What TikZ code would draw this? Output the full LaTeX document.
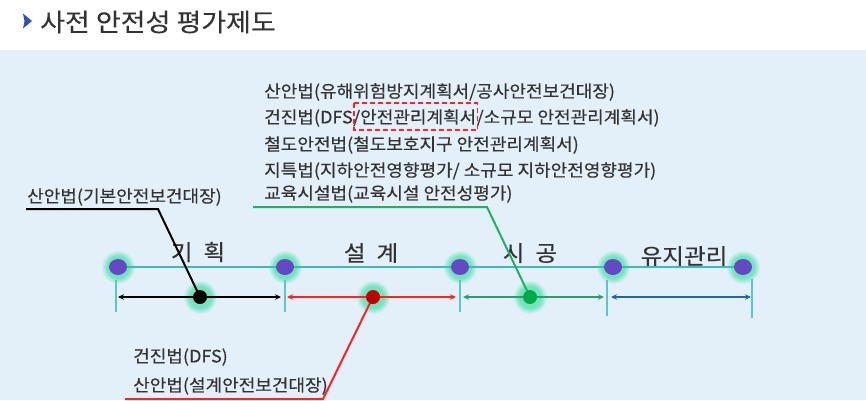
\documentclass[tikz,border=0pt]{standalone}
\usepackage{fontspec}
\setmainfont{Noto Sans CJK KR}
\newfontfamily\bodyfont[FakeStretch=1.06,FakeBold=0.3]{Noto Sans CJK KR}
\newfontfamily\titlefont[FakeStretch=1.08,FakeBold=0.2]{Noto Sans CJK KR}
\newfontfamily\phasefont[FakeStretch=1.07,FakeBold=0.3]{Noto Sans CJK KR}
\usetikzlibrary{arrows.meta,shapes.geometric}
\definecolor{bg}{HTML}{E3F0FA}
\definecolor{txt}{HTML}{333333}
\definecolor{tealline}{HTML}{3DBDB2}
\definecolor{tick}{HTML}{5CC6C4}
\definecolor{purpledot}{HTML}{6548C4}
\definecolor{glow}{HTML}{74E4C0}
\definecolor{redline}{HTML}{FF2222}
\definecolor{reddot}{HTML}{C00000}
\definecolor{greenline}{HTML}{20B060}
\definecolor{greenarrow}{HTML}{2E9A70}
\definecolor{greendot}{HTML}{00AA44}
\definecolor{bluearrow}{HTML}{1F6A9A}
\definecolor{titleblue}{HTML}{3050B8}
\pgfdeclareradialshading{glowshade}{\pgfpoint{0bp}{0bp}}{%
  color(0bp)=(glow); color(16bp)=(glow); color(21bp)=(glow!45!bg); color(25bp)=(bg); color(50bp)=(bg)}
\begin{document}
\begin{tikzpicture}[x=1pt,y=-1pt,
  body/.style={font=\bodyfont\fontsize{17}{20}\selectfont, text=txt, inner sep=0pt, anchor=west},
  phase/.style={font=\phasefont\fontsize{22}{26}\selectfont, text=txt, inner sep=0pt},
  bigdot/.style={ellipse, fill=purpledot, minimum width=18pt, minimum height=16pt, inner sep=0pt},
  smalldot/.style={circle, minimum size=14pt, inner sep=0pt},
  tickline/.style={tick, line width=1.3pt},
  span/.style={line width=1.7pt, {Stealth[length=6pt,width=5.5pt]}-{Stealth[length=6pt,width=5.5pt]}},
  leader/.style={line width=2pt}
]
\useasboundingbox (0,0) rectangle (866,400);
\fill[white] (0,0) rectangle (866,50);
\fill[bg] (0,50) rectangle (866,400);

% title
\fill[titleblue] (23,13.5) -- (32,21) -- (23,28.5) -- (24.5,21) -- cycle;
\node[font=\titlefont\fontsize{25}{29}\selectfont, text=txt, inner sep=0pt, anchor=west] (title) at (40,22) {사전 안전성 평가제도};

% top text block
\node[body] (t1) at (264,92) {산안법(유해위험방지계획서/공사안전보건대장)};
\node[body] (t2a) at (264,118) {건진법(DFS};
\node[body, anchor=base west] (t2b) at (t2a.base east) {/안전관리계획서};
\node[body, anchor=base west] (t2c) at (t2b.base east) {/소규모 안전관리계획서)};
\node[body] (t3) at (264,145) {철도안전법(철도보호지구 안전관리계획서)};
\node[body] (t4) at (264,171) {지특법(지하안전영향평가/ 소규모 지하안전영향평가)};
\node[body] (t5) at (264,194) {교육시설법(교육시설 안전성평가)};
\draw[redline, line width=1.4pt, dash pattern=on 5pt off 3pt] ([xshift=1pt]t2b.west |- 0,103) rectangle ([xshift=1pt]t2b.east |- 0,130);

% left label
\node[body] (l1) at (27,197) {산안법(기본안전보건대장)};
% bottom labels
\node[body] (b1) at (133,357) {건진법(DFS)};
\node[body] (b2) at (133,386) {산안법(설계안전보건대장)};

% phase labels
\node[phase] (p1) at (198,252) {기\enspace 획};
\node[phase] (p2) at (371,253) {설\enspace 계};
\node[phase] (p3) at (530,253) {시\enspace 공};
\node[phase] (p4) at (684,256) {유지관리};

% glows
\foreach \x/\y in {118/267,285/267,460/267,613/267,743/267,200/297,373/297,530/297}
  \shade[shading=glowshade] (\x,\y) circle (17);

% timeline dots
\node[bigdot] (d1) at (118,267) {};
\node[bigdot] (d2) at (285,267) {};
\node[bigdot] (d3) at (460,267) {};
\node[bigdot] (d4) at (613,267) {};
\node[bigdot] (d5) at (743,267) {};
\draw[tealline, line width=1.3pt] (d1) -- (d2) (d2) -- (d3) (d3) -- (d4) (d4) -- (d5);

% ticks
\coordinate (k1t) at (116,280); \coordinate (k1b) at (116,312);
\coordinate (k2t) at (285,280); \coordinate (k2b) at (285,312);
\coordinate (k3t) at (460,280); \coordinate (k3b) at (460,312);
\coordinate (k4t) at (607,280); \coordinate (k4b) at (607,316);
\coordinate (k5t) at (752,279); \coordinate (k5b) at (752,318);
\foreach \k in {1,...,5} \draw[tickline] (k\k t) -- (k\k b);

% span arrows
\coordinate (s1l) at (118,297); \coordinate (s1r) at (281,297);
\coordinate (s2l) at (287,297); \coordinate (s2r) at (456,297);
\coordinate (s3l) at (463,297); \coordinate (s3r) at (604,297);
\coordinate (s4l) at (611,297); \coordinate (s4r) at (751,297);
\draw[span, black] (s1l) -- (s1r);
\draw[span, redline] (s2l) -- (s2r);
\draw[span, greenarrow] (s3l) -- (s3r);
\draw[span, bluearrow] (s4l) -- (s4r);

% leader lines
\coordinate (c1a) at (26,209); \coordinate (c1b) at (158,209);
\coordinate (c2a) at (125,399); \coordinate (c2b) at (323,399);
\coordinate (c3a) at (253,207); \coordinate (c3b) at (487,207);
\draw[leader, black] (c1a) -- (c1b) -- (200,297);
\draw[leader, redline] (c2a) -- (c2b) -- (373,297);
\draw[leader, greenline] (c3a) -- (c3b) -- (530,297);

% span dots
\node[smalldot, fill=black] (m1) at (200,297) {};
\node[smalldot, fill=reddot] (m2) at (373,297) {};
\node[smalldot, fill=greendot] (m3) at (530,297) {};
\end{tikzpicture}
\end{document}
